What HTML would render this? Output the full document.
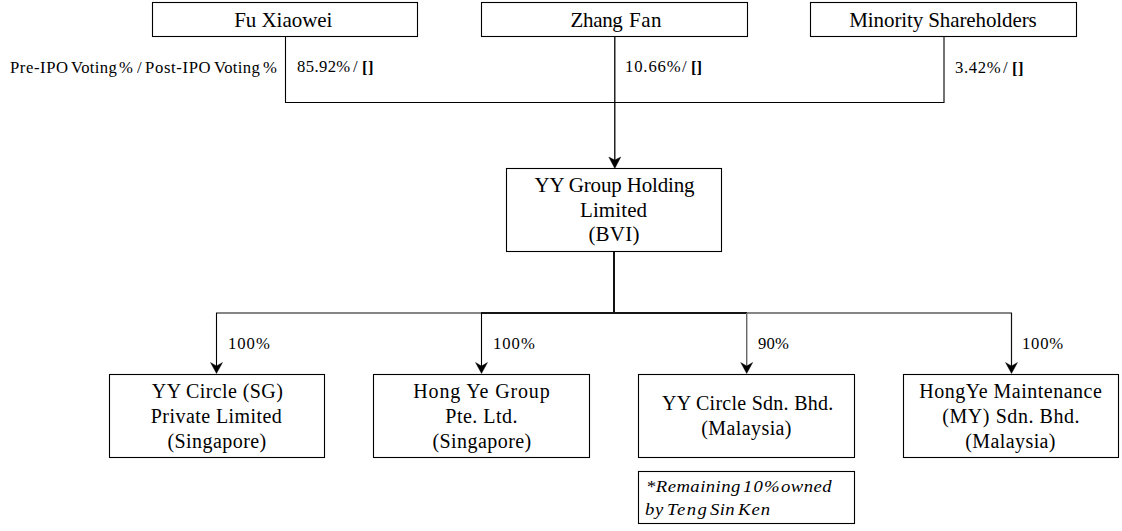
<!DOCTYPE html>
<html><head><meta charset="utf-8"><style>
html,body{margin:0;padding:0;background:#fff;width:1122px;height:531px;overflow:hidden;position:relative}
svg{position:absolute;left:0;top:0}
.t{position:absolute;font-family:"Liberation Serif",serif;line-height:1;white-space:pre;color:#000}
.t b{font-weight:bold}
.t{transform-origin:0 0}
</style></head><body>
<svg width="1122" height="531" viewBox="0 0 1122 531">
<rect x="152.5" y="2.5" width="265" height="34" fill="none" stroke="#000" stroke-width="1.1"/>
<rect x="481.5" y="2.5" width="266" height="34" fill="none" stroke="#000" stroke-width="1.1"/>
<rect x="810.5" y="2.5" width="266" height="34" fill="none" stroke="#000" stroke-width="1.1"/>
<rect x="506.5" y="168.5" width="215" height="83" fill="none" stroke="#000" stroke-width="1.1"/>
<rect x="109.5" y="374.5" width="215" height="83" fill="none" stroke="#000" stroke-width="1.1"/>
<rect x="373.5" y="374.5" width="216" height="83" fill="none" stroke="#000" stroke-width="1.1"/>
<rect x="638.5" y="374.5" width="216" height="83" fill="none" stroke="#000" stroke-width="1.1"/>
<rect x="903.5" y="374.5" width="215" height="83" fill="none" stroke="#000" stroke-width="1.1"/>
<rect x="638.5" y="471.5" width="216" height="52" fill="none" stroke="#000" stroke-width="1.1"/>
<path d="M285.5 37 V102.5 H944 V37" fill="none" stroke="#000" stroke-width="1.1"/>
<path d="M614.8 37 V162" fill="none" stroke="#000" stroke-width="1.3"/>
<path d="M608.8 157 L614.8 168.5 L620.8 157 L614.8 160 Z" fill="#000" stroke="#000" stroke-width="0.4" stroke-linejoin="miter"/>
<path d="M614 252 V314" fill="none" stroke="#111" stroke-width="2"/>
<path d="M216 313 H1012" fill="none" stroke="#858585" stroke-width="1.9"/>
<path d="M481 313 H747" fill="none" stroke="#151515" stroke-width="2"/>
<path d="M216.5 313 V366" fill="none" stroke="#000" stroke-width="1.1"/>
<path d="M210.5 362.5 L216.5 373.5 L222.5 362.5 L216.5 366 Z" fill="#000" stroke="#000" stroke-width="0.4" stroke-linejoin="miter"/>
<path d="M481.5 313 V366" fill="none" stroke="#000" stroke-width="1.1"/>
<path d="M475.5 362.5 L481.5 373.5 L487.5 362.5 L481.5 366 Z" fill="#000" stroke="#000" stroke-width="0.4" stroke-linejoin="miter"/>
<path d="M746.7 313 V366" fill="none" stroke="#666" stroke-width="1.4"/>
<path d="M740.7 362.5 L746.7 373.5 L752.7 362.5 L746.7 366 Z" fill="#000" stroke="#000" stroke-width="0.4" stroke-linejoin="miter"/>
<path d="M1011.5 313 V366" fill="none" stroke="#111" stroke-width="1.2"/>
<path d="M1005.5 362.5 L1011.5 373.5 L1017.5 362.5 L1011.5 366 Z" fill="#000" stroke="#000" stroke-width="0.4" stroke-linejoin="miter"/>
</svg>
<div class="t" style="left:234.2px;top:9.9px;font-size:21px;letter-spacing:-0.044px;font-style:normal">Fu Xiaowei</div>
<div class="t" style="left:570.6px;top:9.9px;font-size:21px;letter-spacing:-0.35px;font-style:normal">Zhang</div>
<div class="t" style="left:629.0px;top:9.9px;font-size:21px;letter-spacing:0.55px;font-style:normal">Fan</div>
<div class="t" style="left:849.3px;top:9.5px;font-size:21px;letter-spacing:-0.105px;font-style:normal">Minority Shareholders</div>
<div class="t" style="left:9.6px;top:59.5px;font-size:16px;letter-spacing:0.577px;font-style:normal;transform:scaleX(1.04)">Pre-IPO</div>
<div class="t" style="left:70.5px;top:59.5px;font-size:16px;letter-spacing:0.327px;font-style:normal;transform:scaleX(1.04)">Voting</div>
<div class="t" style="left:119.2px;top:59.5px;font-size:16px;letter-spacing:0px;font-style:normal;transform:scaleX(1.04)">%</div>
<div class="t" style="left:136.8px;top:59.5px;font-size:16px;letter-spacing:0px;font-style:normal;transform:scaleX(1.04)">/</div>
<div class="t" style="left:145.4px;top:59.5px;font-size:16px;letter-spacing:0.632px;font-style:normal;transform:scaleX(1.04)">Post-IPO</div>
<div class="t" style="left:213.6px;top:59.5px;font-size:16px;letter-spacing:0.327px;font-style:normal;transform:scaleX(1.04)">Voting</div>
<div class="t" style="left:262.8px;top:59.5px;font-size:16px;letter-spacing:0px;font-style:normal;transform:scaleX(1.04)">%</div>
<div class="t" style="left:297.0px;top:58.8px;font-size:16px;letter-spacing:0.365px;font-style:normal;transform:scaleX(1.04)">85.92%</div>
<div class="t" style="left:352.8px;top:58.8px;font-size:16px;letter-spacing:0px;font-style:normal;transform:scaleX(1.04)">/</div>
<div class="t" style="left:362.1px;top:59.599999999999994px;font-size:16px;letter-spacing:0.481px;font-style:normal;transform:scaleX(1.04)"><b>[]</b></div>
<div class="t" style="left:624.6px;top:58.8px;font-size:16px;letter-spacing:0.827px;font-style:normal;transform:scaleX(1.04)">10.66%</div>
<div class="t" style="left:682.2px;top:58.8px;font-size:16px;letter-spacing:0px;font-style:normal;transform:scaleX(1.04)">/</div>
<div class="t" style="left:690.8px;top:59.599999999999994px;font-size:16px;letter-spacing:-0.096px;font-style:normal;transform:scaleX(1.04)"><b>[]</b></div>
<div class="t" style="left:954.5px;top:59.800000000000004px;font-size:16px;letter-spacing:0.649px;font-style:normal;transform:scaleX(1.04)">3.42%</div>
<div class="t" style="left:1002.9px;top:59.800000000000004px;font-size:16px;letter-spacing:0px;font-style:normal;transform:scaleX(1.04)">/</div>
<div class="t" style="left:1011.7px;top:60.6px;font-size:16px;letter-spacing:0.481px;font-style:normal;transform:scaleX(1.04)"><b>[]</b></div>
<div class="t" style="left:534.4px;top:175.0px;font-size:21px;letter-spacing:-0.16px;font-style:normal">YY Group Holding</div>
<div class="t" style="left:580.0px;top:199.6px;font-size:21px;letter-spacing:0.1px;font-style:normal">Limited</div>
<div class="t" style="left:588.4px;top:224.1px;font-size:21px;letter-spacing:0.225px;font-style:normal">(BVI)</div>
<div class="t" style="left:227.9px;top:335.8px;font-size:16px;letter-spacing:0.95px;font-style:normal;transform:scaleX(1.04)">100%</div>
<div class="t" style="left:492.9px;top:335.8px;font-size:16px;letter-spacing:0.95px;font-style:normal;transform:scaleX(1.04)">100%</div>
<div class="t" style="left:758.3px;top:335.8px;font-size:16px;letter-spacing:0.229px;font-style:normal;transform:scaleX(1.04)">90%</div>
<div class="t" style="left:1022.1999999999999px;top:335.8px;font-size:16px;letter-spacing:0.758px;font-style:normal;transform:scaleX(1.04)">100%</div>
<div class="t" style="left:151.8px;top:380.6px;font-size:20px;letter-spacing:0.392px;font-style:normal">YY Circle (SG)</div>
<div class="t" style="left:150.8px;top:405.5px;font-size:20px;letter-spacing:0.436px;font-style:normal">Private Limited</div>
<div class="t" style="left:167.4px;top:430.6px;font-size:20px;letter-spacing:0.44px;font-style:normal">(Singapore)</div>
<div class="t" style="left:413.3px;top:380.6px;font-size:20px;letter-spacing:0.858px;font-style:normal">Hong Ye Group</div>
<div class="t" style="left:445.3px;top:405.5px;font-size:20px;letter-spacing:0.475px;font-style:normal">Pte. Ltd.</div>
<div class="t" style="left:432.4px;top:430.6px;font-size:20px;letter-spacing:0.44px;font-style:normal">(Singapore)</div>
<div class="t" style="left:662.0px;top:393.1px;font-size:20px;letter-spacing:0.267px;font-style:normal">YY Circle Sdn. Bhd.</div>
<div class="t" style="left:701.3px;top:417.5px;font-size:20px;letter-spacing:0.4px;font-style:normal">(Malaysia)</div>
<div class="t" style="left:919.3px;top:380.6px;font-size:20px;letter-spacing:0.5px;font-style:normal">HongYe Maintenance</div>
<div class="t" style="left:942.3px;top:405.5px;font-size:20px;letter-spacing:0.562px;font-style:normal">(MY) Sdn. Bhd.</div>
<div class="t" style="left:965.3px;top:430.6px;font-size:20px;letter-spacing:0.4px;font-style:normal">(Malaysia)</div>
<div class="t" style="left:645.6px;top:477.8px;font-size:17px;letter-spacing:0.404px;font-style:italic;transform:scaleX(1.1)">*Remaining</div>
<div class="t" style="left:742.5px;top:477.8px;font-size:17px;letter-spacing:1.0px;font-style:italic;transform:scaleX(1.1)">10%</div>
<div class="t" style="left:780.5px;top:477.8px;font-size:17px;letter-spacing:0.386px;font-style:italic;transform:scaleX(1.1)">owned</div>
<div class="t" style="left:644.8px;top:500.6px;font-size:17px;letter-spacing:0.636px;font-style:italic;transform:scaleX(1.1)">by</div>
<div class="t" style="left:667.1px;top:500.6px;font-size:17px;letter-spacing:1.273px;font-style:italic;transform:scaleX(1.1)">Teng</div>
<div class="t" style="left:710.4px;top:500.6px;font-size:17px;letter-spacing:0.273px;font-style:italic;transform:scaleX(1.1)">Sin</div>
<div class="t" style="left:738.1px;top:500.6px;font-size:17px;letter-spacing:0.864px;font-style:italic;transform:scaleX(1.1)">Ken</div>
</body></html>
